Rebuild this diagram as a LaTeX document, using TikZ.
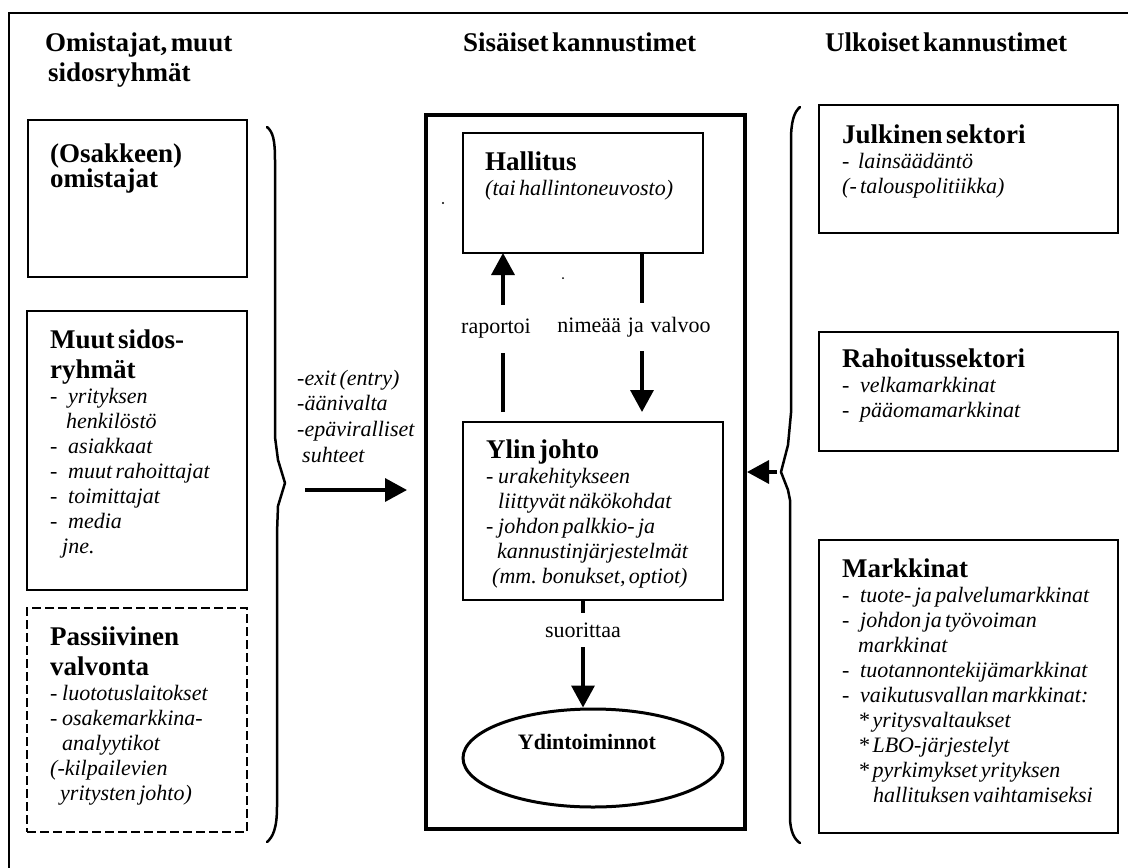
\documentclass[tikz,border=0pt]{standalone}
\usepackage{fontspec}
\setmainfont{Liberation Serif}[WordSpace=1.25]
\usetikzlibrary{arrows.meta,shapes.geometric,positioning}
\newcommand\hdfont{\fontsize{27}{30}\selectfont\bfseries}
\newcommand\listfont{\fontsize{22}{25}\selectfont\itshape}
\newcommand\lblfont{\fontsize{22}{25}\selectfont}
\newcommand\itemdash[1][18pt]{\makebox[#1][l]{-}}

\begin{document}
\begin{tikzpicture}[x=1pt,y=-1pt,>={Triangle[length=22pt,width=23pt]},
  box/.style={draw,line width=2.5pt,anchor=north west,inner sep=0pt,outer sep=0pt},
  dashbox/.style={box,dash pattern=on 9pt off 4pt},
  txt/.style={anchor=north west,inner sep=0pt,align=left,text width=290pt,
    execute at begin node=\setlength\parindent{0pt}},
  flow/.style={->,line width=3.5pt},
  lbl/.style={fill=white,font=\lblfont,inner xsep=2pt,inner ysep=14pt},
  brace/.style={line width=2.5pt,line cap=round,line join=round}]
\useasboundingbox (0,0) rectangle (1128,868);
% frame, cut by the page edge
\draw[line width=2pt] (9,868) |- (1128,13);

% column titles
\node[txt] (ttlL) at (45,30) {\hdfont\strut Omistajat, muut\\\hspace*{3pt}sidosryhm\"at\par};
\node[txt] (ttlM) at (463,30) {\hdfont\strut Sis\"aiset kannustimet\par};
\node[txt] (ttlR) at (825,30) {\hdfont\strut Ulkoiset kannustimet\par};

% left column
\node[box,minimum width=219pt,minimum height=157pt] (osak) at (28,120) {};
\node[txt] (osakT) at (50,141) {\hdfont\strut (Osakkeen)\\[-5pt]omistajat\par};
\node[box,minimum width=220pt,minimum height=279pt] (muut) at (27,311) {};
\node[txt] (muutT) at (50,327) {{\hdfont\strut Muut sidos-\\ryhm\"at\par}%
  {\listfont\itemdash yrityksen\\\hspace*{16pt}henkil\"ost\"o\\\itemdash asiakkaat\\
  \itemdash muut rahoittajat\\\itemdash toimittajat\\\itemdash media\\\hspace*{12pt}jne.\par}};
\node[dashbox,minimum width=220pt,minimum height=224pt] (pass) at (27,608) {};
\node[txt] (passT) at (50,624) {{\hdfont\strut Passiivinen\\valvonta\par}%
  {\listfont\itemdash[12pt]luototuslaitokset\\\itemdash[12pt]osakemarkkina-\\
  \hspace*{12pt}analyytikot\\(-kilpailevien\\\hspace*{10pt}yritysten johto)\par}};

\draw[brace] (267,127) .. controls (273,132) and (275,140) .. (275,160) -- (275,437)
  -- (278,460) -- (285,483) -- (278,506) -- (277,533) -- (277,807)
  .. controls (277,828) and (273,837) .. (267,842);
\node[txt] (exitT) at (297,367) {\fontsize{22}{25.7}\selectfont\itshape\strut -exit (entry)\\
  -\"a\"anivalta\\-ep\"aviralliset\\\hspace*{5pt}suhteet\par};
\coordinate (lsrc) at (305,490);

% inner incentives
\node[box,line width=4pt,outer sep=2pt,minimum width=319pt,minimum height=714pt] (mid) at (424,113) {};
\node[box,minimum width=240pt,minimum height=120pt] (hall) at (463,133) {};
\node[txt] (hallT) at (485,149) {{\hdfont\strut Hallitus\par}{\listfont (tai hallintoneuvosto)\par}};
\node[box,minimum width=260pt,minimum height=178pt] (ylin) at (463,422) {};
\node[txt] (ylinT) at (486,437) {{\hdfont\strut Ylin johto\par}%
  {\listfont\itemdash[12pt]urakehitykseen\\\hspace*{12pt}liittyv\"at n\"ak\"okohdat\\
  \itemdash[12pt]johdon palkkio- ja\\\hspace*{11pt}kannustinj\"arjestelm\"at\\
  \hspace*{6pt}(mm. bonukset, optiot)\par}};
\node[ellipse,draw,line width=3pt,minimum width=260pt,minimum height=98pt] (ydin) at (593,758) {};
\node[font=\fontsize{22}{25}\selectfont\bfseries,inner sep=0pt] (ydinT) at (587,742) {Ydintoiminnot};
\fill (443,203) circle (1.2pt) (563,278) circle (1pt);

\draw[flow,shorten <=10pt] ([xshift=-90pt]ylin.north) -- node[lbl,pos=0.55,xshift=-7pt]{raportoi} ([xshift=-80pt]hall.south);
\draw[flow,shorten >=10pt] ([xshift=59pt]hall.south) -- node[lbl,pos=0.44,xshift=-8pt]{nime\"a\"a ja valvoo} ([xshift=49pt]ylin.north);
\draw[flow] ([xshift=-10pt]ylin.south) -- node[lbl,pos=0.28,inner ysep=10pt]{suorittaa} ([xshift=-10pt]ydin.north);
\draw[flow,shorten >=17pt] (lsrc) -- (lsrc -| mid.west);

% outer incentives
\node[box,minimum width=299pt,minimum height=128pt] (julk) at (819,105) {};
\node[txt] (julkT) at (842,122) {{\hdfont\strut Julkinen sektori\par}%
  {\listfont\itemdash[16pt]lains\"a\"ad\"ant\"o\\(- talouspolitiikka)\par}};
\node[box,minimum width=299pt,minimum height=119pt] (raho) at (819,332) {};
\node[txt] (rahoT) at (842,346) {{\hdfont\strut Rahoitussektori\par}%
  {\listfont\itemdash velkamarkkinat\\\itemdash p\"a\"aomamarkkinat\par}};
\node[box,minimum width=299pt,minimum height=293pt] (mark) at (819,540) {};
\node[txt] (markT) at (842,556) {{\hdfont\strut Markkinat\par}%
  {\listfont\itemdash tuote- ja palvelumarkkinat\\\itemdash johdon ja ty\"ovoiman\\
  \hspace*{16pt}markkinat\\\itemdash tuotannontekij\"amarkkinat\\\itemdash vaikutusvallan markkinat:\\
  \hspace*{16pt}* yritysvaltaukset\\\hspace*{16pt}* LBO-j\"arjestelyt\\
  \hspace*{16pt}* pyrkimykset yrityksen\\\hspace*{31pt}hallituksen vaihtamiseksi\par}};

\draw[brace] (800,107) .. controls (794,112) and (791,122) .. (791,140) -- (791,413)
  -- (788,445) -- (781,472) -- (788,490) -- (790,500) -- (790,817)
  .. controls (790,832) and (795,840) .. (800,843);
\coordinate (rsrc) at (777,472);
\draw[flow] (rsrc) -- (rsrc -| mid.east);
\end{tikzpicture}
\end{document}
